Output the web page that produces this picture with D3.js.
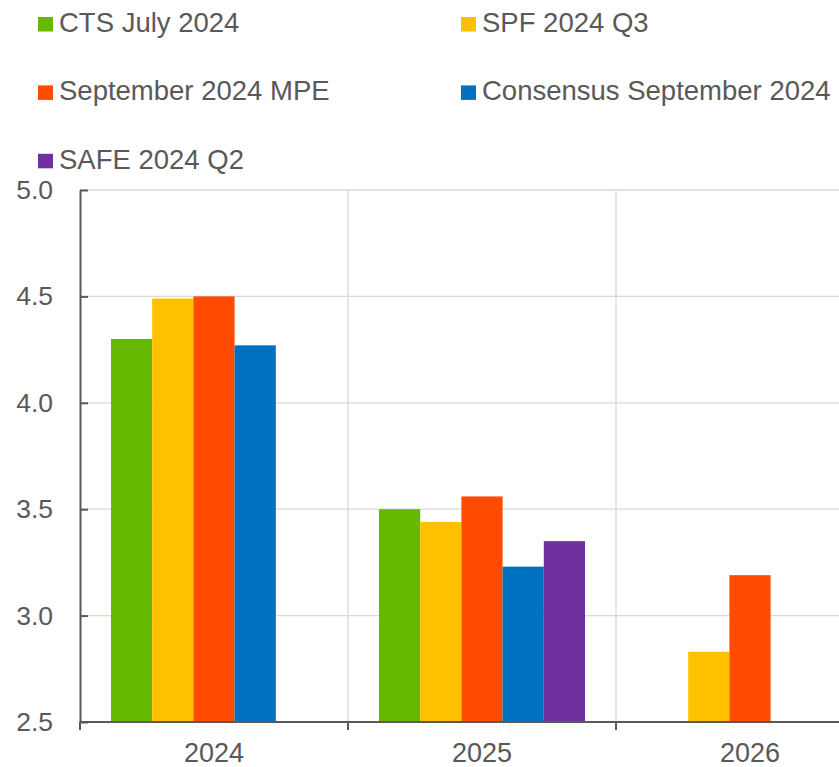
<!DOCTYPE html>
<html>
<head>
<meta charset="utf-8">
<script src="https://cdn.jsdelivr.net/npm/d3@7"></script>
<style>
  body { margin: 0; background: #fff; }
  text { font-family: "Liberation Sans", Arial, sans-serif; fill: #595959; }
</style>
</head>
<body>
<div id="chart"></div>
<script>
// data
const years = ["2024", "2025", "2026"];
const seriesNames = ["CTS July 2024", "SPF 2024 Q3", "September 2024 MPE", "Consensus September 2024", "SAFE 2024 Q2"];
const seriesColors = ["#66b800", "#ffc000", "#ff4b00", "#0070c0", "#7030a0"];
const ctsJuly = [4.30, 3.50, null];
const spfQ3 = [4.49, 3.44, 2.83];
const mpeSept = [4.50, 3.56, 3.19];
const consensusSept = [4.27, 3.23, null];
const safeQ2 = [null, 3.35, null];
const yTicks = [2.5, 3.0, 3.5, 4.0, 4.5, 5.0];

const allSeries = [ctsJuly, spfQ3, mpeSept, consensusSept, safeQ2];

const width = 839, height = 767;
const svg = d3.select("#chart").append("svg")
  .attr("width", width)
  .attr("height", height);

// plot runs past the right edge, like in the original
const x0 = d3.scaleBand().domain(years).range([80, 884]).padding(0);
const x1 = d3.scaleBand().domain(d3.range(seriesNames.length))
  .range([31, x0.bandwidth() - 31]).padding(0);
const y = d3.scaleLinear().domain([2.5, 5.0]).range([722, 190]);

// gridlines
svg.append("g").selectAll("line.h")
  .data(yTicks.slice(1))
  .join("line")
  .attr("x1", 80).attr("x2", width)
  .attr("y1", d => y(d)).attr("y2", d => y(d))
  .attr("stroke", "#d9d9d9").attr("stroke-width", 1.3);

svg.append("g").selectAll("line.v")
  .data(years.slice(1))
  .join("line")
  .attr("x1", d => x0(d)).attr("x2", d => x0(d))
  .attr("y1", y(5.0)).attr("y2", y(2.5))
  .attr("stroke", "#d9d9d9").attr("stroke-width", 1.3);

// bars
const cells = [];
allSeries.forEach((vals, s) => {
  vals.forEach((v, i) => {
    if (v != null) cells.push({ year: years[i], s: s, v: v });
  });
});

svg.append("g").selectAll("rect")
  .data(cells)
  .join("rect")
  .attr("x", d => x0(d.year) + x1(d.s))
  .attr("width", x1.bandwidth())
  .attr("y", d => y(d.v))
  .attr("height", d => y(2.5) - y(d.v))
  .attr("fill", d => seriesColors[d.s]);

// y axis
const yAxis = svg.append("g").attr("transform", "translate(80,0)")
  .call(d3.axisLeft(y).tickValues(yTicks).tickFormat(d3.format(".1f")).tickSizeInner(-8).tickSizeOuter(0).tickPadding(27));
yAxis.select(".domain").attr("stroke", "#595959").attr("stroke-width", 2);
yAxis.selectAll(".tick line").attr("stroke", "#595959").attr("stroke-width", 2);
yAxis.selectAll(".tick text").attr("font-size", 26.5).attr("fill", "#595959")
  .attr("font-family", "Liberation Sans, Arial, sans-serif");

// x axis: ticks at category edges, labels centred
const xAxis = svg.append("g").attr("transform", `translate(0,${y(2.5)})`);
xAxis.append("line")
  .attr("x1", 80).attr("x2", width)
  .attr("stroke", "#595959").attr("stroke-width", 2);
xAxis.selectAll("line.tk")
  .data(years)
  .join("line")
  .attr("class", "tk")
  .attr("x1", d => x0(d)).attr("x2", d => x0(d))
  .attr("y1", 0).attr("y2", 8)
  .attr("stroke", "#595959").attr("stroke-width", 2);
xAxis.selectAll("text")
  .data(years)
  .join("text")
  .attr("x", d => x0(d) + x0.bandwidth() / 2)
  .attr("y", 40)
  .attr("text-anchor", "middle")
  .attr("font-size", 27)
  .text(d => d);

// legend
const legendPos = [[38, 0], [461, 0], [38, 1], [461, 1], [38, 2]];
const legend = svg.append("g").selectAll("g")
  .data(seriesNames)
  .join("g")
  .attr("transform", (d, i) => `translate(${legendPos[i][0]},${32 + legendPos[i][1] * 68.4})`);
legend.append("rect")
  .attr("x", 0).attr("y", -15)
  .attr("width", 15).attr("height", 14.5)
  .attr("fill", (d, i) => seriesColors[i]);
legend.append("text")
  .attr("x", 21).attr("y", 0)
  .attr("font-size", 27.5)
  .text(d => d);
</script>
</body>
</html>
